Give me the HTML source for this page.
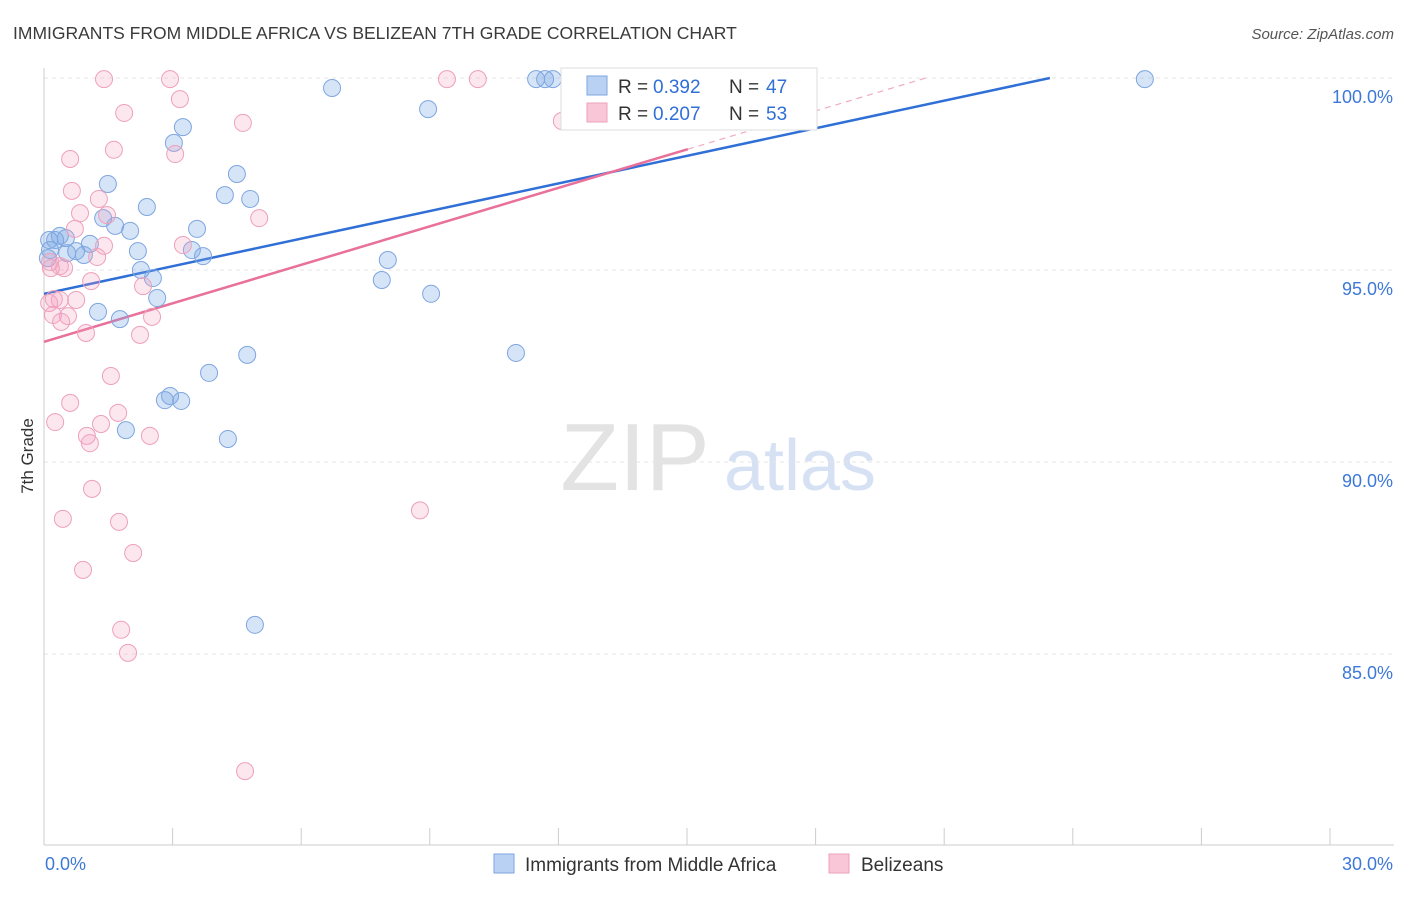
<!DOCTYPE html>
<html><head><meta charset="utf-8"><style>
body{margin:0;background:#fff;font-family:"Liberation Sans",sans-serif;}
svg text{font-family:"Liberation Sans",sans-serif;}
</style></head><body>
<svg id="chart" width="1406" height="892" viewBox="0 0 1406 892" xmlns="http://www.w3.org/2000/svg">
<text x="13" y="39" font-size="17.5" fill="#3a3a3a">IMMIGRANTS FROM MIDDLE AFRICA VS BELIZEAN 7TH GRADE CORRELATION CHART</text>
<text x="1394" y="39" font-size="15" fill="#555" font-style="italic" text-anchor="end">Source: ZipAtlas.com</text>
<text transform="translate(33,456) rotate(-90)" font-size="17" fill="#333" text-anchor="middle">7th Grade</text>
<g>
<text x="635" y="490" font-size="96" fill="#e3e3e3" font-family="Liberation Serif,serif" text-anchor="middle">ZIP</text>
<text x="800" y="490" font-size="72" fill="#d6e2f3" text-anchor="middle">atlas</text>
</g>
<g id="grid"></g><g id="axes"></g><g id="lines"></g><g id="points"></g>
<g>
<rect x="561" y="68" width="256" height="62" fill="#fff" stroke="#ddd"/>
<rect x="587" y="76" width="20" height="19" fill="#b9d1f3" stroke="#7ea6e0"/>
<text x="618" y="93" font-size="19" fill="#333">R =</text>
<text x="653" y="93" font-size="19" fill="#2f6fd6">0.392</text>
<text x="729" y="93" font-size="19" fill="#333">N =</text>
<text x="766" y="93" font-size="19" fill="#2f6fd6">47</text>
<rect x="587" y="103" width="20" height="19" fill="#f8c6d6" stroke="#eea0bb"/>
<text x="618" y="120" font-size="19" fill="#333">R =</text>
<text x="653" y="120" font-size="19" fill="#2f6fd6">0.207</text>
<text x="729" y="120" font-size="19" fill="#333">N =</text>
<text x="766" y="120" font-size="19" fill="#2f6fd6">53</text>
</g>
<g>
<rect x="494" y="854" width="20" height="19" fill="#b9d1f3" stroke="#7ea6e0"/>
<text x="525" y="871" font-size="19" fill="#333">Immigrants from Middle Africa</text>
<rect x="829" y="854" width="20" height="19" fill="#f8c6d6" stroke="#eea0bb"/>
<text x="861" y="871" font-size="19" fill="#333">Belizeans</text>
</g>
</svg>
<script>
const xTicks=[0,3,6,9,12,15,18,21,24,27,30];
const yTicks=[85,90,95,100];
const yTickLabels=["85.0%","90.0%","95.0%","100.0%"];
const blueX=[25.68,11.48,11.69,11.87,6.72,8.96,3.24,3.03,4.50,1.49,4.22,4.81,2.40,1.38,1.66,2.01,3.57,0.12,0.37,0.51,1.07,0.75,0.54,0.93,2.19,3.45,3.71,8.02,2.26,2.54,7.88,2.64,9.03,1.26,1.77,4.74,11.01,3.85,2.94,2.82,3.20,1.91,4.29,4.92,0.14,0.26,0.09];
const blueY=[99.97,99.97,99.97,99.97,99.74,99.19,98.72,98.31,97.50,97.24,96.95,96.85,96.64,96.35,96.15,96.02,96.07,95.78,95.89,95.83,95.68,95.49,95.44,95.39,95.49,95.52,95.36,95.26,95.00,94.79,94.74,94.27,94.38,93.91,93.72,92.79,92.84,92.32,91.72,91.61,91.59,90.83,90.60,85.76,95.52,95.78,95.31];
const pinkX=[1.40,2.94,9.40,10.12,1.87,3.17,4.64,12.08,1.63,3.06,0.61,0.65,1.28,0.84,1.47,5.02,0.72,1.40,3.24,1.24,0.14,0.37,0.47,0.16,1.10,2.31,0.23,0.75,0.37,0.12,0.21,0.56,2.52,0.40,0.98,2.24,1.56,0.61,1.73,1.33,0.26,1.00,1.07,2.47,1.12,0.44,8.77,1.75,2.08,0.91,1.80,1.96,4.69];
const pinkY=[99.97,99.97,99.97,99.97,99.09,99.45,98.83,98.88,98.13,98.02,97.89,97.06,96.85,96.48,96.43,96.35,96.07,95.63,95.65,95.34,95.21,95.10,95.05,95.05,94.71,94.58,94.24,94.22,94.22,94.14,93.83,93.80,93.78,93.65,93.36,93.31,92.24,91.54,91.28,90.99,91.04,90.68,90.49,90.68,89.30,88.52,88.74,88.44,87.63,87.19,85.63,85.03,81.95];
const blueTrend=[94.38,0.2395];
const pinkTrend=[93.13,0.334];
const pinkSolidEnd=15.02;

const NS="http://www.w3.org/2000/svg";
const X=v=>44+v*(1286/30);
const Y=v=>78+(100-v)*38.4;
function mk(tag,attrs,parent){const e=document.createElementNS(NS,tag);for(const k in attrs)e.setAttribute(k,attrs[k]);document.getElementById(parent).appendChild(e);return e;}
yTicks.forEach((t,i)=>{
 const g=mk('line',{x1:44,x2:1394,y1:Y(t),y2:Y(t),stroke:'#e6e6e6','stroke-dasharray':'4,4'},'grid');
 
 
 const l=mk('text',{x:1393,y:Y(t)+25,'font-size':18,fill:'#3d78d8','text-anchor':'end'},'axes');
 l.textContent=yTickLabels[i];
 
 
});
const ax=mk('line',{x1:44,x2:44,y1:68,y2:845,stroke:'#ccc'},'axes');


const bx=mk('line',{x1:44,x2:1394,y1:845,y2:845,stroke:'#ccc'},'axes');


xTicks.forEach(t=>{
 const tk=mk('line',{x1:X(t),x2:X(t),y1:828,y2:845,stroke:'#ccc'},'axes');
 
 
});
const x0=mk('text',{x:45,y:870,'font-size':18,fill:'#3d78d8'},'axes');x0.textContent=xTicks[0].toFixed(1)+'%';


const x1=mk('text',{x:1393,y:870,'font-size':18,fill:'#3d78d8','text-anchor':'end'},'axes');x1.textContent=xTicks[xTicks.length-1].toFixed(1)+'%';


function dot(x,y,f,s,name){const c=mk('circle',{cx:X(x),cy:Y(y),r:8.5,fill:f,stroke:s,'stroke-width':1},'points');
 
 }
blueX.forEach((x,i)=>dot(x,blueY[i],'rgba(120,165,230,0.3)','#7ea6e0','point-middle-africa'));
pinkX.forEach((x,i)=>dot(x,pinkY[i],'rgba(245,160,190,0.25)','#eea0bb','point-belizeans'));
const bEnd=(100-blueTrend[0])/blueTrend[1];
const bl=mk('line',{x1:X(0),y1:Y(blueTrend[0]),x2:X(bEnd),y2:Y(100),stroke:'#2f6fd6','stroke-width':2.5},'lines');


const pEnd=(100-pinkTrend[0])/pinkTrend[1];
const pl=mk('line',{x1:X(0),y1:Y(pinkTrend[0]),x2:X(pinkSolidEnd),y2:Y(pinkTrend[0]+pinkTrend[1]*pinkSolidEnd),stroke:'#e8709a','stroke-width':2.5},'lines');


const pd=mk('line',{x1:X(pinkSolidEnd),y1:Y(pinkTrend[0]+pinkTrend[1]*pinkSolidEnd),x2:X(pEnd),y2:Y(100),stroke:'#eeaac2','stroke-width':1.2,'stroke-dasharray':'6,5'},'lines');


</script>
</body></html>
